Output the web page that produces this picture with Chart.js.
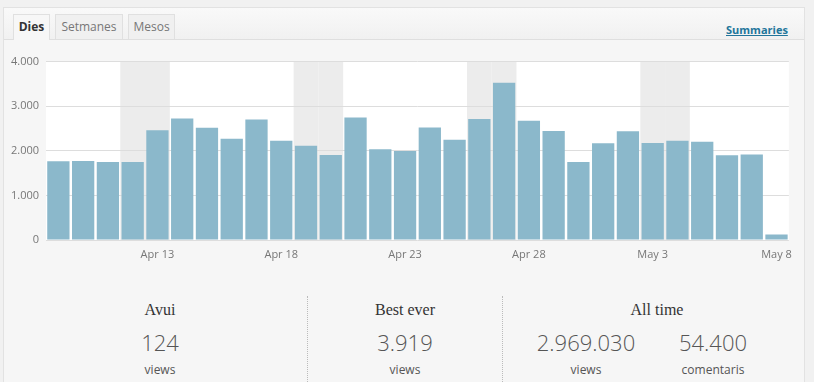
<!DOCTYPE html>
<html><head><meta charset="utf-8">
<script src="https://cdn.jsdelivr.net/npm/chart.js@4"></script>
<style>
html,body{margin:0;padding:0;background:#f1f1f1;width:814px;height:382px;overflow:hidden;font-family:"Open Sans",sans-serif;}
#panel{position:absolute;left:3px;top:7px;width:802px;height:380px;background:#f6f6f6;border:1px solid #e2e2e2;box-sizing:border-box;}
#head{position:absolute;left:0;top:0;width:100%;height:31px;background:linear-gradient(#f9f9f9,#f1f1f1);border-bottom:1px solid #dfdfdf;}
.tab{position:absolute;top:6px;height:25px;box-sizing:border-box;border:1px solid #e0e0e0;border-bottom:none;background:#f0f0f0;font-size:12px;color:#777;line-height:24px;text-align:center;}
.tab.act{background:#f7f7f7;color:#333;font-weight:bold;height:26px;}
#sum{position:absolute;left:722px;top:14px;font-size:11px;font-weight:bold;color:#21759b;text-decoration:underline;}
#wrap{position:absolute;left:0;top:48px;width:800px;height:222px;}
.ttl{font-family:"Liberation Serif","DejaVu Serif",serif;font-size:16px;color:#333;position:absolute;top:301px;}
.num{font-size:22px;font-weight:300;color:#555;position:absolute;top:327px;}
.lbl{font-size:12px;color:#555;position:absolute;top:361px;}
.div{position:absolute;top:296px;height:90px;border-left:1px dotted #bbb;}
</style></head><body>
<div id="panel">
 <div id="head">
  <div class="tab act" style="left:9px;width:37px;">Dies</div>
  <div class="tab" style="left:51px;width:68px;">Setmanes</div>
  <div class="tab" style="left:124px;width:47px;">Mesos</div>
  <div id="sum">Summaries</div>
 </div>
</div>
<div id="wrap"><canvas id="c"></canvas></div>
<div class="div" style="left:307px"></div>
<div class="div" style="left:502px"></div>
<div class="ttl" style="left:110px;width:100px;text-align:center">Avui</div>
<div class="num" style="left:110px;width:100px;text-align:center">124</div>
<div class="lbl" style="left:110px;width:100px;text-align:center">views</div>
<div class="ttl" style="left:355px;width:100px;text-align:center">Best ever</div>
<div class="num" style="left:355px;width:100px;text-align:center">3.919</div>
<div class="lbl" style="left:355px;width:100px;text-align:center">views</div>
<div class="ttl" style="left:607px;width:100px;text-align:center">All time</div>
<div class="num" style="left:516px;width:140px;text-align:center">2.969.030</div>
<div class="lbl" style="left:516px;width:140px;text-align:center">views</div>
<div class="num" style="left:653px;width:120px;text-align:center">54.400</div>
<div class="lbl" style="left:653px;width:120px;text-align:center">comentaris</div>
<script>
const days = ['Apr 9','Apr 10','Apr 11','Apr 12','Apr 13','Apr 14','Apr 15','Apr 16','Apr 17','Apr 18',
 'Apr 19','Apr 20','Apr 21','Apr 22','Apr 23','Apr 24','Apr 25','Apr 26','Apr 27','Apr 28',
 'Apr 29','Apr 30','May 1','May 2','May 3','May 4','May 5','May 6','May 7','May 8'];
const views = [1765,1772,1750,1750,2458,2726,2518,2272,2704,2224,
 2115,1907,2749,2034,1996,2525,2250,2711,3523,2674,
 2443,1750,2168,2436,2175,2227,2205,1900,1915,124];
const weekendDays = ['Apr 12','Apr 13','Apr 19','Apr 20','Apr 26','Apr 27','May 3','May 4'];
const shownTicks = ['Apr 13','Apr 18','Apr 23','Apr 28','May 3','May 8'];
const yTicks = [0,1000,2000,3000,4000];

const fmt = v => v.toString().replace(/\B(?=(\d{3})+(?!\d))/g,'.');

const bandPlugin = {
 id:'bands',
 beforeDraw(chart){
  const {ctx, chartArea:a, scales:{x}} = chart;
  ctx.save();
  ctx.fillStyle='#ffffff';
  ctx.fillRect(a.left,a.top,a.right-a.left,a.bottom-a.top);
  const w = (a.right-a.left)/days.length;
  ctx.fillStyle='#ececec';
  days.forEach((d,i)=>{
   if(weekendDays.includes(d)){
    const c = x.getPixelForValue(i);
    ctx.fillRect(c-w/2,a.top,w,a.bottom-a.top);
   }
  });
  ctx.restore();
 }
};

new Chart(document.getElementById('c'),{
 type:'bar',
 data:{labels:days,datasets:[{data:views,backgroundColor:'#8bb8cb',barPercentage:0.9,categoryPercentage:1.0}]},
 plugins:[bandPlugin],
 options:{
  responsive:true,maintainAspectRatio:false,animation:false,
  layout:{padding:{top:5,right:10,left:0,bottom:0}},
  plugins:{legend:{display:false},tooltip:{enabled:false}},
  scales:{
   x:{grid:{display:false,drawTicks:false},border:{display:false},
      ticks:{autoSkip:false,maxRotation:0,padding:8,color:'#777',font:{family:'Open Sans',size:11},
        callback:(v,i)=>shownTicks.includes(days[i])?days[i]:''},
      afterFit(s){s.height=30;}},
   y:{min:0,max:4000,grid:{color:'#dddddd',drawTicks:false},border:{display:false},
      afterBuildTicks(s){s.ticks=yTicks.map(v=>({value:v}));},
      ticks:{padding:7,color:'#777',font:{family:'Open Sans',size:11},callback:v=>fmt(v)},
      afterFit(s){s.width=46;}}
  }
 }
});
</script>
</body></html>
